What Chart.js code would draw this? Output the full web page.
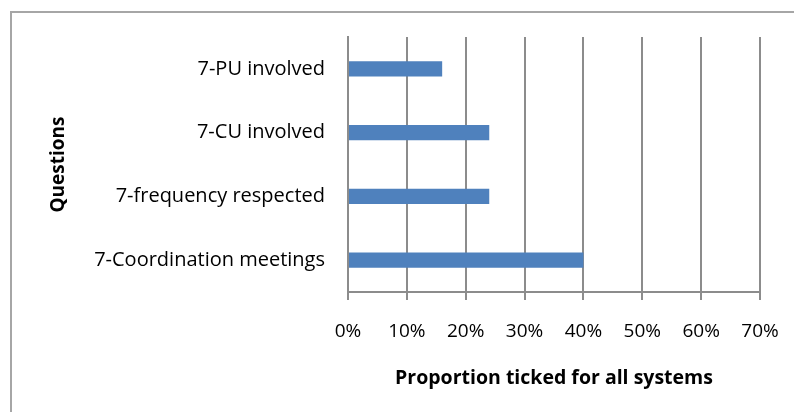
<!DOCTYPE html>
<html>
<head>
<meta charset="utf-8">
<script src="https://cdn.jsdelivr.net/npm/chart.js@4"></script>
<style>
  html, body { margin: 0; padding: 0; background: #fff; }
  #wrap { position: relative; width: 794px; height: 412px; overflow: hidden; }
  #frame { position: absolute; left: 10px; top: 11px; width: 800px; height: 420px;
           border-left: 2px solid #a6a6a6; border-top: 2px solid #a6a6a6; }
  canvas { position: absolute; left: 0; top: 0; }
</style>
</head>
<body>
<div id="wrap">
  <div id="frame"></div>
  <canvas id="chart" width="794" height="412"></canvas>
</div>
<script>
const questions = ['7-PU involved', '7-CU involved', '7-frequency respected', '7-Coordination meetings'];
const proportions = [0.16, 0.24, 0.24, 0.40];
const xTicks = [0, 0.1, 0.2, 0.3, 0.4, 0.5, 0.6, 0.7];

const font = "'Open Sans', Lato, sans-serif";
const gridColor = '#8c8c8c';

new Chart(document.getElementById('chart'), {
    type: 'bar',
    data: {
        labels: questions,
        datasets: [{
            data: proportions,
            backgroundColor: '#4f81bd',
            barPercentage: 0.24,
            categoryPercentage: 1
        }]
    },
    options: {
        indexAxis: 'y',
        responsive: false,
        animation: false,
        layout: { padding: { left: 47, top: 37, right: 34, bottom: 22 } },
        plugins: { legend: { display: false }, tooltip: { enabled: false } },
        scales: {
            x: {
                min: 0,
                max: 0.7,
                afterBuildTicks: s => { s.ticks = xTicks.map(v => ({ value: v })); },
                afterFit: s => {
                    s.height = 412 - 292 - 22;
                    s.paddingLeft = 0;
                    s.paddingRight = 0;
                },
                grid: { color: gridColor, lineWidth: 2, tickLength: 8, drawTicks: true },
                border: { color: gridColor, width: 2 },
                ticks: {
                    color: '#000',
                    font: { family: font, size: 19 },
                    padding: 20,
                    callback: v => Math.round(v * 100) + '%'
                },
                title: {
                    display: true,
                    text: 'Proportion ticked for all systems',
                    color: '#000',
                    font: { family: font, size: 19.5, weight: 'bold' },
                    padding: { top: 14, bottom: 0 }
                }
            },
            y: {
                afterFit: s => { s.width = 348 - 47; },
                grid: { display: false },
                border: { color: gridColor, width: 2 },
                ticks: {
                    color: '#000',
                    font: { family: font, size: 20 },
                    padding: 15
                },
                title: {
                    display: true,
                    text: 'Questions',
                    color: '#000',
                    font: { family: font, size: 19, weight: 'bold' },
                    padding: 0
                }
            }
        }
    }
});
</script>
</body>
</html>
